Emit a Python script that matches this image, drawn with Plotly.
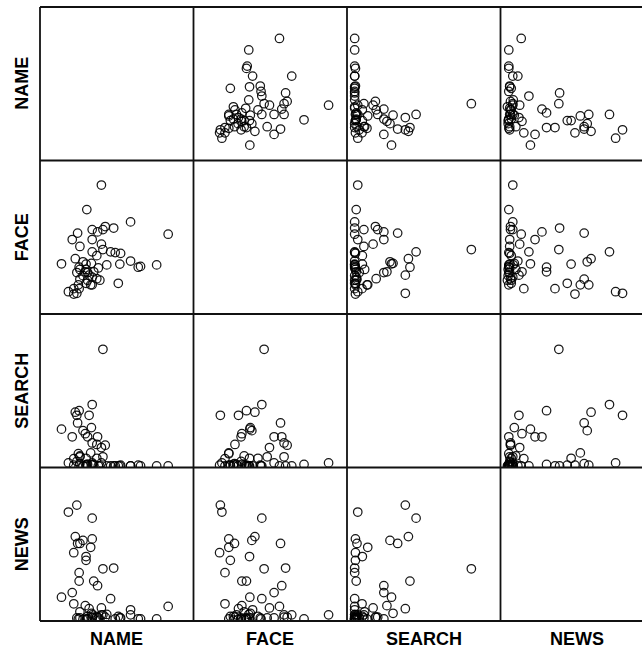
import plotly.graph_objects as go
from plotly.subplots import make_subplots

variables = ["NAME", "FACE", "SEARCH", "NEWS"]

NAME = [20, 14.5, 30, 19, 30, 24, 20.5, 22, 29, 18, 26, 26, 37, 44, 21.5, 21.5, 31, 33.5, 17, 10, 42,
        36, 79.5, 28, 29.5, 25.5, 30, 38.5, 21, 27, 36, 33,
        72, 61.5, 60, 55, 55, 26.5, 47, 48, 48.5, 45, 39.5, 22, 30, 18, 37,
        24, 27, 35, 22, 34, 20, 26, 30, 33]
FACE = [13.5, 14.5, 40.5, 36, 19, 34, 52.7, 22.7, 19, 13, 32.5, 20, 42, 56, 16.5, 30.5, 27.5, 53.5, 48.5, 32.7, 40.5,
        84, 52, 25.3, 33, 27.5, 55, 57, 19, 27, 45.5, 23,
        32, 31, 30.5, 34.5, 60, 68, 20, 32.5, 39.5, 40, 32, 44, 48.5, 16.5, 55,
        25, 22, 22, 29, 30, 27, 29, 24, 38]
SEARCH = [34, 3, 41, 36, 1.5, 24, 29, 2.5, 9.5, 1.5, 6, 1.5, 77, 1, 1, 37, 2, 20, 20, 25, 1,
          3, 1, 34, 26, 22, 16, 14.5, 9, 20, 13, 15,
          1, 1, 1.5, 1, 1, 2, 1, 1, 1.5, 1, 1, 7, 3, 5.8, 7,
          1, 2, 1, 7.5, 1, 4, 1.5, 2, 6]
NEWS = [75.5, 71, 67, 55, 53.5, 52.5, 50.5, 50.5, 48, 44.5, 42, 39.5, 34, 34.5, 31.5, 26, 26, 23, 18.5, 15.5, 14.5,
        4, 9.5, 8, 5, 10, 2.5, 2.5, 1.4, 1.4, 8.5, 2.5,
        1.4, 1.4, 1.4, 7.3, 4, 1.4, 3, 2, 2, 1.4, 4.3, 2, 2, 11.2, 4,
        1, 3, 0.5, 6, 2, 2, 1, 4, 3]

data = {"NAME": NAME, "FACE": FACE, "SEARCH": SEARCH, "NEWS": NEWS}

# geometry (pixels)
W_PX, H_PX = 642, 651
L, T, B = 40, 7, 30
plot_w = W_PX - L
plot_h = H_PX - T - B
cell = plot_h / 4.0
col_edges = [L + i * cell for i in range(4)] + [W_PX]
xdom = [((col_edges[i] - L) / plot_w, min(1.0, (col_edges[i + 1] - L) / plot_w)) for i in range(4)]
visible_frac4 = (W_PX - col_edges[3]) / cell

XR = [-4, 96]
YR = [0, 100]

fig = make_subplots(rows=4, cols=4, horizontal_spacing=0, vertical_spacing=0)

for r, vy in enumerate(variables):
    for c, vx in enumerate(variables):
        if r != c:
            fig.add_trace(
                go.Scatter(
                    x=data[vx], y=data[vy], mode="markers",
                    marker=dict(symbol="circle-open", size=8.5, color="rgba(0,0,0,0.9)",
                                line=dict(width=1.25, color="rgba(0,0,0,0.9)")),
                    showlegend=False, hoverinfo="skip",
                ),
                row=r + 1, col=c + 1,
            )

for r in range(4):
    for c in range(4):
        idx = r * 4 + c + 1
        xa = "xaxis" if idx == 1 else f"xaxis{idx}"
        ya = "yaxis" if idx == 1 else f"yaxis{idx}"
        xr = XR if c < 3 else [XR[0], XR[0] + (XR[1] - XR[0]) * visible_frac4]
        fig.layout[xa].update(domain=list(xdom[c]), range=xr, showticklabels=False, ticks="",
                              showgrid=False, zeroline=False, showline=False, fixedrange=True)
        y0 = 1 - (r + 1) / 4.0
        fig.layout[ya].update(domain=[y0, y0 + 0.25], range=YR, showticklabels=False, ticks="",
                              showgrid=False, zeroline=False, showline=False, fixedrange=True)

# panel borders
LINE = dict(color="#111111", width=1.8)
shapes = []
for i in range(4):
    xp = (col_edges[i] - L) / plot_w
    shapes.append(dict(type="line", xref="paper", yref="paper", x0=xp, x1=xp, y0=0, y1=1,
                       line=LINE, layer="above"))
for j in range(5):
    yp = j / 4.0
    shapes.append(dict(type="line", xref="paper", yref="paper", x0=0, x1=1, y0=yp, y1=yp,
                       line=LINE, layer="above"))

annotations = []
font = dict(family="Liberation Sans, Arial, sans-serif", size=18, color="black")
for i, name in enumerate(variables):
    yc = 1 - (i + 0.5) / 4.0
    annotations.append(dict(text="<b>%s</b>" % name, xref="paper", yref="paper",
                            x=(22 - L) / plot_w, y=yc, textangle=-90, showarrow=False,
                            xanchor="center", yanchor="middle", font=font))
    xc_px = col_edges[i] + cell / 2.0
    annotations.append(dict(text="<b>%s</b>" % name, xref="paper", yref="paper",
                            x=(xc_px - L) / plot_w, y=-(639 - (H_PX - B)) / plot_h,
                            showarrow=False, xanchor="center", yanchor="middle", font=font))

fig.update_layout(width=W_PX, height=H_PX, margin=dict(l=L, r=0, t=T, b=B, pad=0),
                  paper_bgcolor="white", plot_bgcolor="white", annotations=annotations,
                  shapes=shapes)

fig.write_html("out.html", post_script="document.body.style.margin='0';",
               config={"displayModeBar": False, "staticPlot": True})
